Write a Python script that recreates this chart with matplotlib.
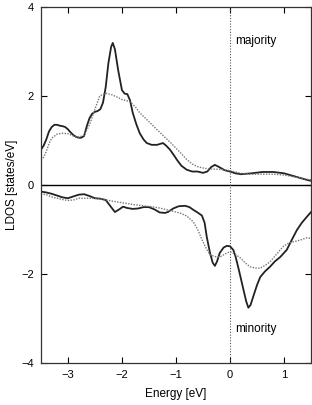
import matplotlib
matplotlib.use('Agg')
import matplotlib.pyplot as plt

plt.rcParams['font.family'] = ['Liberation Sans', 'DejaVu Sans']

# majority spin (solid and dotted curves)
maj_x = [-3.5, -3.45, -3.4, -3.35, -3.3, -3.25, -3.2, -3.15, -3.1, -3.05, -3.0, -2.95, -2.9,
         -2.85, -2.8, -2.75, -2.7, -2.65, -2.6, -2.55, -2.5, -2.45, -2.4, -2.35, -2.3, -2.25,
         -2.2, -2.17, -2.13, -2.07, -2.0, -1.95, -1.9, -1.85, -1.8, -1.73, -1.67, -1.6, -1.54,
         -1.45, -1.35, -1.24, -1.18, -1.11, -1.04, -0.98, -0.9, -0.8, -0.7, -0.6, -0.5, -0.42,
         -0.35, -0.28, -0.2, -0.1, 0.0, 0.1, 0.2, 0.4, 0.6, 0.8, 1.0, 1.2, 1.4, 1.5]
maj_solid = [0.79, 0.88, 1.02, 1.2, 1.3, 1.35, 1.35, 1.33, 1.32, 1.3, 1.25, 1.18, 1.12,
             1.08, 1.06, 1.06, 1.1, 1.32, 1.5, 1.6, 1.64, 1.66, 1.7, 1.85, 2.2, 2.74,
             3.1, 3.19, 3.05, 2.58, 2.13, 2.05, 2.04, 1.9, 1.62, 1.35, 1.16, 1.02, 0.94,
             0.9, 0.9, 0.94, 0.88, 0.79, 0.67, 0.56, 0.43, 0.34, 0.3, 0.3, 0.27, 0.3,
             0.4, 0.45, 0.4, 0.33, 0.3, 0.26, 0.24, 0.26, 0.29, 0.29, 0.26, 0.19, 0.12, 0.09]

majd_x = [-3.5, -3.45, -3.4, -3.35, -3.3, -3.2, -3.1, -3.0, -2.9, -2.8, -2.7, -2.6, -2.5,
          -2.41, -2.3, -2.2, -2.1, -2.0, -1.85, -1.75, -1.67, -1.5, -1.3, -1.1, -0.93, -0.8,
          -0.7, -0.6, -0.5, -0.4, -0.2, 0.0, 0.2, 0.4, 0.6, 0.8, 1.0, 1.2, 1.4, 1.5]
maj_dotted = [0.56, 0.62, 0.75, 0.92, 1.05, 1.14, 1.16, 1.15, 1.1, 1.07, 1.12, 1.35, 1.7,
              2.0, 2.06, 2.03, 1.98, 1.92, 1.87, 1.75, 1.62, 1.42, 1.18, 0.95, 0.74, 0.57,
              0.47, 0.41, 0.38, 0.36, 0.35, 0.32, 0.26, 0.24, 0.24, 0.24, 0.22, 0.18, 0.13, 0.11]

# minority spin
min_x = [-3.5, -3.4, -3.3, -3.2, -3.1, -3.0, -2.9, -2.8, -2.7, -2.6, -2.5, -2.4, -2.3,
         -2.2, -2.13, -2.05, -1.98, -1.9, -1.8, -1.7, -1.6, -1.5, -1.4, -1.3, -1.2, -1.15,
         -1.05, -0.95, -0.83, -0.75, -0.68, -0.6, -0.52, -0.47, -0.43, -0.4, -0.37, -0.32,
         -0.28, -0.24, -0.19, -0.12, -0.06, 0.0, 0.06, 0.1, 0.15, 0.2, 0.25, 0.3, 0.34, 0.38,
         0.43, 0.5, 0.56, 0.65, 0.74, 0.83, 0.93, 1.05, 1.15, 1.24, 1.33, 1.42, 1.5]
min_solid = [-0.15, -0.17, -0.2, -0.24, -0.28, -0.3, -0.26, -0.22, -0.21, -0.25, -0.3, -0.31, -0.34,
             -0.5, -0.61, -0.55, -0.49, -0.52, -0.54, -0.53, -0.5, -0.5, -0.55, -0.62, -0.63, -0.61,
             -0.53, -0.48, -0.47, -0.5, -0.56, -0.62, -0.69, -0.85, -1.17, -1.35, -1.53, -1.75,
             -1.82, -1.72, -1.53, -1.41, -1.37, -1.38, -1.46, -1.6, -1.84, -2.1, -2.36, -2.62, -2.76, -2.7,
             -2.51, -2.25, -2.07, -1.94, -1.84, -1.72, -1.62, -1.46, -1.22, -1.01, -0.85, -0.72, -0.61]

mind_x = [-3.5, -3.4, -3.3, -3.2, -3.1, -3.0, -2.9, -2.8, -2.6, -2.4, -2.2, -2.0, -1.8,
          -1.6, -1.4, -1.3, -1.1, -0.93, -0.8, -0.68, -0.6, -0.5, -0.43, -0.37, -0.28, -0.19,
          -0.1, 0.0, 0.1, 0.19, 0.28, 0.37, 0.47, 0.56, 0.65, 0.74, 0.86, 0.98, 1.08, 1.17,
          1.3, 1.42, 1.5]
min_dotted = [-0.2, -0.22, -0.27, -0.3, -0.33, -0.35, -0.34, -0.3, -0.3, -0.31, -0.36, -0.4, -0.44,
              -0.47, -0.5, -0.52, -0.58, -0.63, -0.7, -0.83, -1.0, -1.28, -1.45, -1.57, -1.61, -1.62,
              -1.56, -1.5, -1.56, -1.64, -1.75, -1.84, -1.87, -1.87, -1.81, -1.73, -1.56, -1.39, -1.31, -1.28,
              -1.24, -1.19, -1.2]

fig = plt.figure(figsize=(3.12, 4.05), dpi=100)
ax = fig.add_axes([0.131, 0.104, 0.866, 0.879])

ax.axhline(0, color='black', lw=1.0)
ax.axvline(0, color='#555555', lw=0.8, ls=(0, (1, 1.5)))

ax.plot(maj_x, maj_solid, color='#222222', lw=1.3)
ax.plot(majd_x, maj_dotted, color='#777777', lw=1.0, ls=(0, (1, 1)))
ax.plot(min_x, min_solid, color='#222222', lw=1.3)
ax.plot(mind_x, min_dotted, color='#777777', lw=1.0, ls=(0, (1, 1)))

ax.set_xlim(-3.5, 1.5)
ax.set_ylim(-4, 4)
ax.set_xticks([-3, -2, -1, 0, 1])
ax.set_yticks([-4, -2, 0, 2, 4])
ax.tick_params(direction='in', top=True, right=True, labelsize=8, length=4, width=0.8, pad=5)
for s in ax.spines.values():
    s.set_linewidth(0.9)
    s.set_color('#333333')

ax.text(0.1, 3.23, 'majority', fontsize=8.5, ha='left', va='center')
ax.text(0.1, -3.23, 'minority', fontsize=8.5, ha='left', va='center')

ax.set_xlabel('Energy [eV]', fontsize=8.5, labelpad=6)
ax.set_ylabel('LDOS [states/eV]', fontsize=8.5, labelpad=2)

fig.savefig('out.png', dpi=100)
